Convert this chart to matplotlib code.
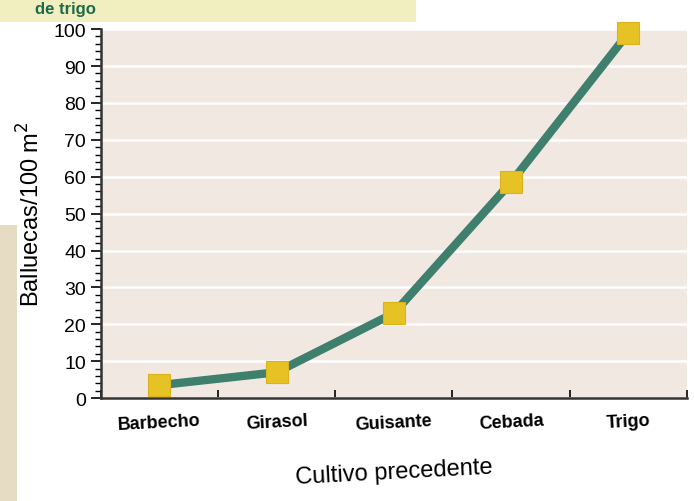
import matplotlib
matplotlib.use("Agg")
import matplotlib.pyplot as plt
from matplotlib.ticker import MultipleLocator, FixedLocator

# data
cultivos = ["Barbecho", "Girasol", "Guisante", "Cebada", "Trigo"]
balluecas = [3.5, 7, 23, 58.5, 99]
yticks = list(range(0, 101, 10))

plt.rcParams["font.family"] = ["Liberation Sans", "DejaVu Sans"]

fig = plt.figure(figsize=(6.94, 5.02), dpi=100)
fig.patch.set_facecolor("white")

# page edge + title band
fig.patches.append(plt.Rectangle((0, 0), 0.025, 0.55, transform=fig.transFigure,
                                 facecolor="#e6dcc4", edgecolor="none"))
fig.patches.append(plt.Rectangle((0, 0.955), 0.6, 0.05, transform=fig.transFigure,
                                 facecolor="#f1eec0", edgecolor="none"))
fig.text(0.05, 0.997, "de trigo", color="#1d6b4a", fontsize=12, fontweight="bold",
         va="top")

ax = fig.add_axes([0.145, 0.205, 0.845, 0.735])
ax.set_facecolor("#f1e9e1")

x = [i + 0.5 for i in range(len(cultivos))]
ax.plot(x, balluecas, color="#3e7f6d", lw=6, solid_capstyle="round", zorder=3)
ax.plot(x, balluecas, ls="none", marker="s", ms=16, mfc="#e6c225",
        mec="#d9b21c", mew=0.8, zorder=4, clip_on=False)

ax.set_xlim(0, len(cultivos))
ax.set_ylim(0, 100)
ax.set_yticks(yticks)
ax.yaxis.set_minor_locator(MultipleLocator(2))
ax.xaxis.set_major_locator(FixedLocator(range(len(cultivos) + 1)))
ax.xaxis.set_minor_locator(FixedLocator(x))
ax.set_xticklabels([""] * (len(cultivos) + 1))
ax.set_xticklabels(cultivos, minor=True, rotation=3, fontsize=13,
                   fontweight="bold")
ax.tick_params(axis="x", which="minor", length=0, pad=10)
ax.tick_params(axis="x", which="major", length=6, width=1.2, direction="in")
ax.tick_params(axis="y", which="major", length=7, width=1.2, labelsize=14)
ax.tick_params(axis="y", which="minor", length=4, width=1)

ax.grid(axis="y", color="white", lw=1.8, zorder=1)
ax.set_axisbelow(True)

for side in ["top", "right"]:
    ax.spines[side].set_visible(False)
ax.spines["left"].set_linewidth(1.8)
ax.spines["bottom"].set_linewidth(1.8)
ax.spines["left"].set_color("#333333")
ax.spines["bottom"].set_color("#333333")

ax.set_ylabel("Balluecas/100 m$^2$", fontsize=17, labelpad=6)
ax.set_xlabel("Cultivo precedente", fontsize=17, labelpad=16, rotation=3)

fig.savefig("out.png", dpi=100)
